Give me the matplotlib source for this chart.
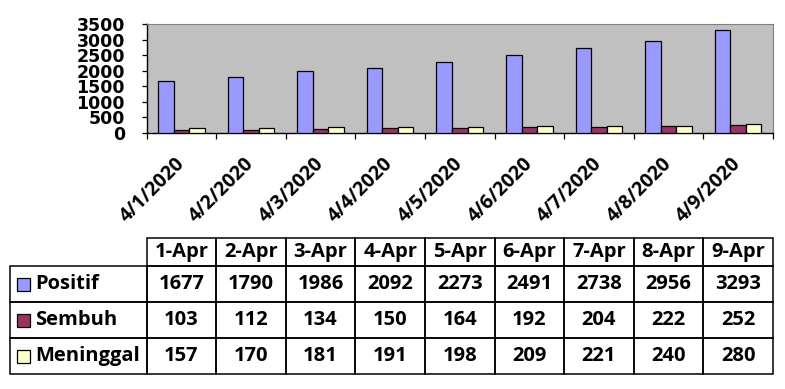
"""Recreate the April 2020 COVID bar chart with data table."""
import numpy as np
import matplotlib.pyplot as plt
from matplotlib.patches import Rectangle

# data
dates = ["4/1/2020", "4/2/2020", "4/3/2020", "4/4/2020", "4/5/2020",
         "4/6/2020", "4/7/2020", "4/8/2020", "4/9/2020"]
day_labels = ["1-Apr", "2-Apr", "3-Apr", "4-Apr", "5-Apr",
              "6-Apr", "7-Apr", "8-Apr", "9-Apr"]
series_names = ["Positif", "Sembuh", "Meninggal"]
positif = [1677, 1790, 1986, 2092, 2273, 2491, 2738, 2956, 3293]
sembuh = [103, 112, 134, 150, 164, 192, 204, 222, 252]
meninggal = [157, 170, 181, 191, 198, 209, 221, 240, 280]
colors = ["#9999FF", "#993366", "#FFFFCC"]

W, H = 785, 389
TXT = ["Open Sans", "DejaVu Sans"]
FS_X = 14
FS_TAB = 14.5

fig = plt.figure(figsize=(W / 100, H / 100), dpi=100)

# plot area in pixels
ax_l, ax_r, ax_t, ax_b = 146.5, 773, 24, 133
ax = fig.add_axes([ax_l / W, 1 - ax_b / H, (ax_r - ax_l) / W, (ax_b - ax_t) / H])
ax.set_facecolor("#C0C0C0")

n = len(dates)
x = np.arange(n)
bw = 0.223
for k, vals in enumerate([positif, sembuh, meninggal]):
    ax.bar(x + (k - 1) * bw, vals, width=bw, color=colors[k],
           edgecolor="black", linewidth=0.9, zorder=3)

ax.set_xlim(-0.5, n - 0.5)
ax.set_ylim(0, 3500)
ax.set_yticks(range(0, 3501, 500))
ax.tick_params(axis="y", length=3.5, width=0.9, pad=12)
for lab in ax.get_yticklabels():
    lab.set_fontfamily("DejaVu Sans")
    lab.set_fontweight("bold")
    lab.set_fontsize(12.5)

# ticks at category boundaries, labels at centres
ax.set_xticks(np.arange(n + 1) - 0.5)
ax.set_xticklabels([])
ax.tick_params(axis="x", which="major", length=4, width=0.9)
ax.set_xticks(x, minor=True)
ax.set_xticklabels(dates, minor=True, rotation=45, ha="right",
                   rotation_mode="anchor", va="center",
                   fontfamily=TXT, fontweight="bold", fontsize=FS_X)
ax.tick_params(axis="x", which="minor", length=0, pad=20)

for side in ["top", "right"]:
    ax.spines[side].set_color("#808080")
for side in ["left", "bottom"]:
    ax.spines[side].set_color("black")
    ax.spines[side].set_linewidth(1.0)

# data table below the chart (pixel coordinates overlay)
tab = fig.add_axes([0, 0, 1, 1])
tab.set_xlim(0, W)
tab.set_ylim(H, 0)
tab.axis("off")

col_w = (ax_r - ax_l) / n
row_edges = [238, 266, 302, 338, 374]
first_l = 10
lw = 1.1

# header row
for i, lab in enumerate(day_labels):
    x0 = ax_l + i * col_w
    tab.add_patch(Rectangle((x0, row_edges[0]), col_w, row_edges[1] - row_edges[0],
                            fill=False, edgecolor="black", linewidth=lw))
    tab.text(x0 + col_w / 2, (row_edges[0] + row_edges[1]) / 2, lab,
             ha="center", va="center", fontfamily=TXT, fontweight="bold", fontsize=FS_TAB)

# body rows with legend swatches
for r, (name, vals) in enumerate(zip(series_names, [positif, sembuh, meninggal])):
    y0, y1 = row_edges[r + 1], row_edges[r + 2]
    yc = (y0 + y1) / 2
    tab.add_patch(Rectangle((first_l, y0), ax_l - first_l, y1 - y0,
                            fill=False, edgecolor="black", linewidth=lw))
    tab.add_patch(Rectangle((17, yc - 6.5), 13, 13, facecolor=colors[r],
                            edgecolor="black", linewidth=0.9))
    tab.text(35, yc, name, ha="left", va="center",
             fontfamily=TXT, fontweight="bold", fontsize=FS_TAB)
    for i, v in enumerate(vals):
        x0 = ax_l + i * col_w
        tab.add_patch(Rectangle((x0, y0), col_w, y1 - y0,
                                fill=False, edgecolor="black", linewidth=lw))
        tab.text(x0 + col_w / 2, yc, str(v), ha="center", va="center",
                 fontfamily=TXT, fontweight="bold", fontsize=FS_TAB)

fig.savefig("out.png", dpi=100)
